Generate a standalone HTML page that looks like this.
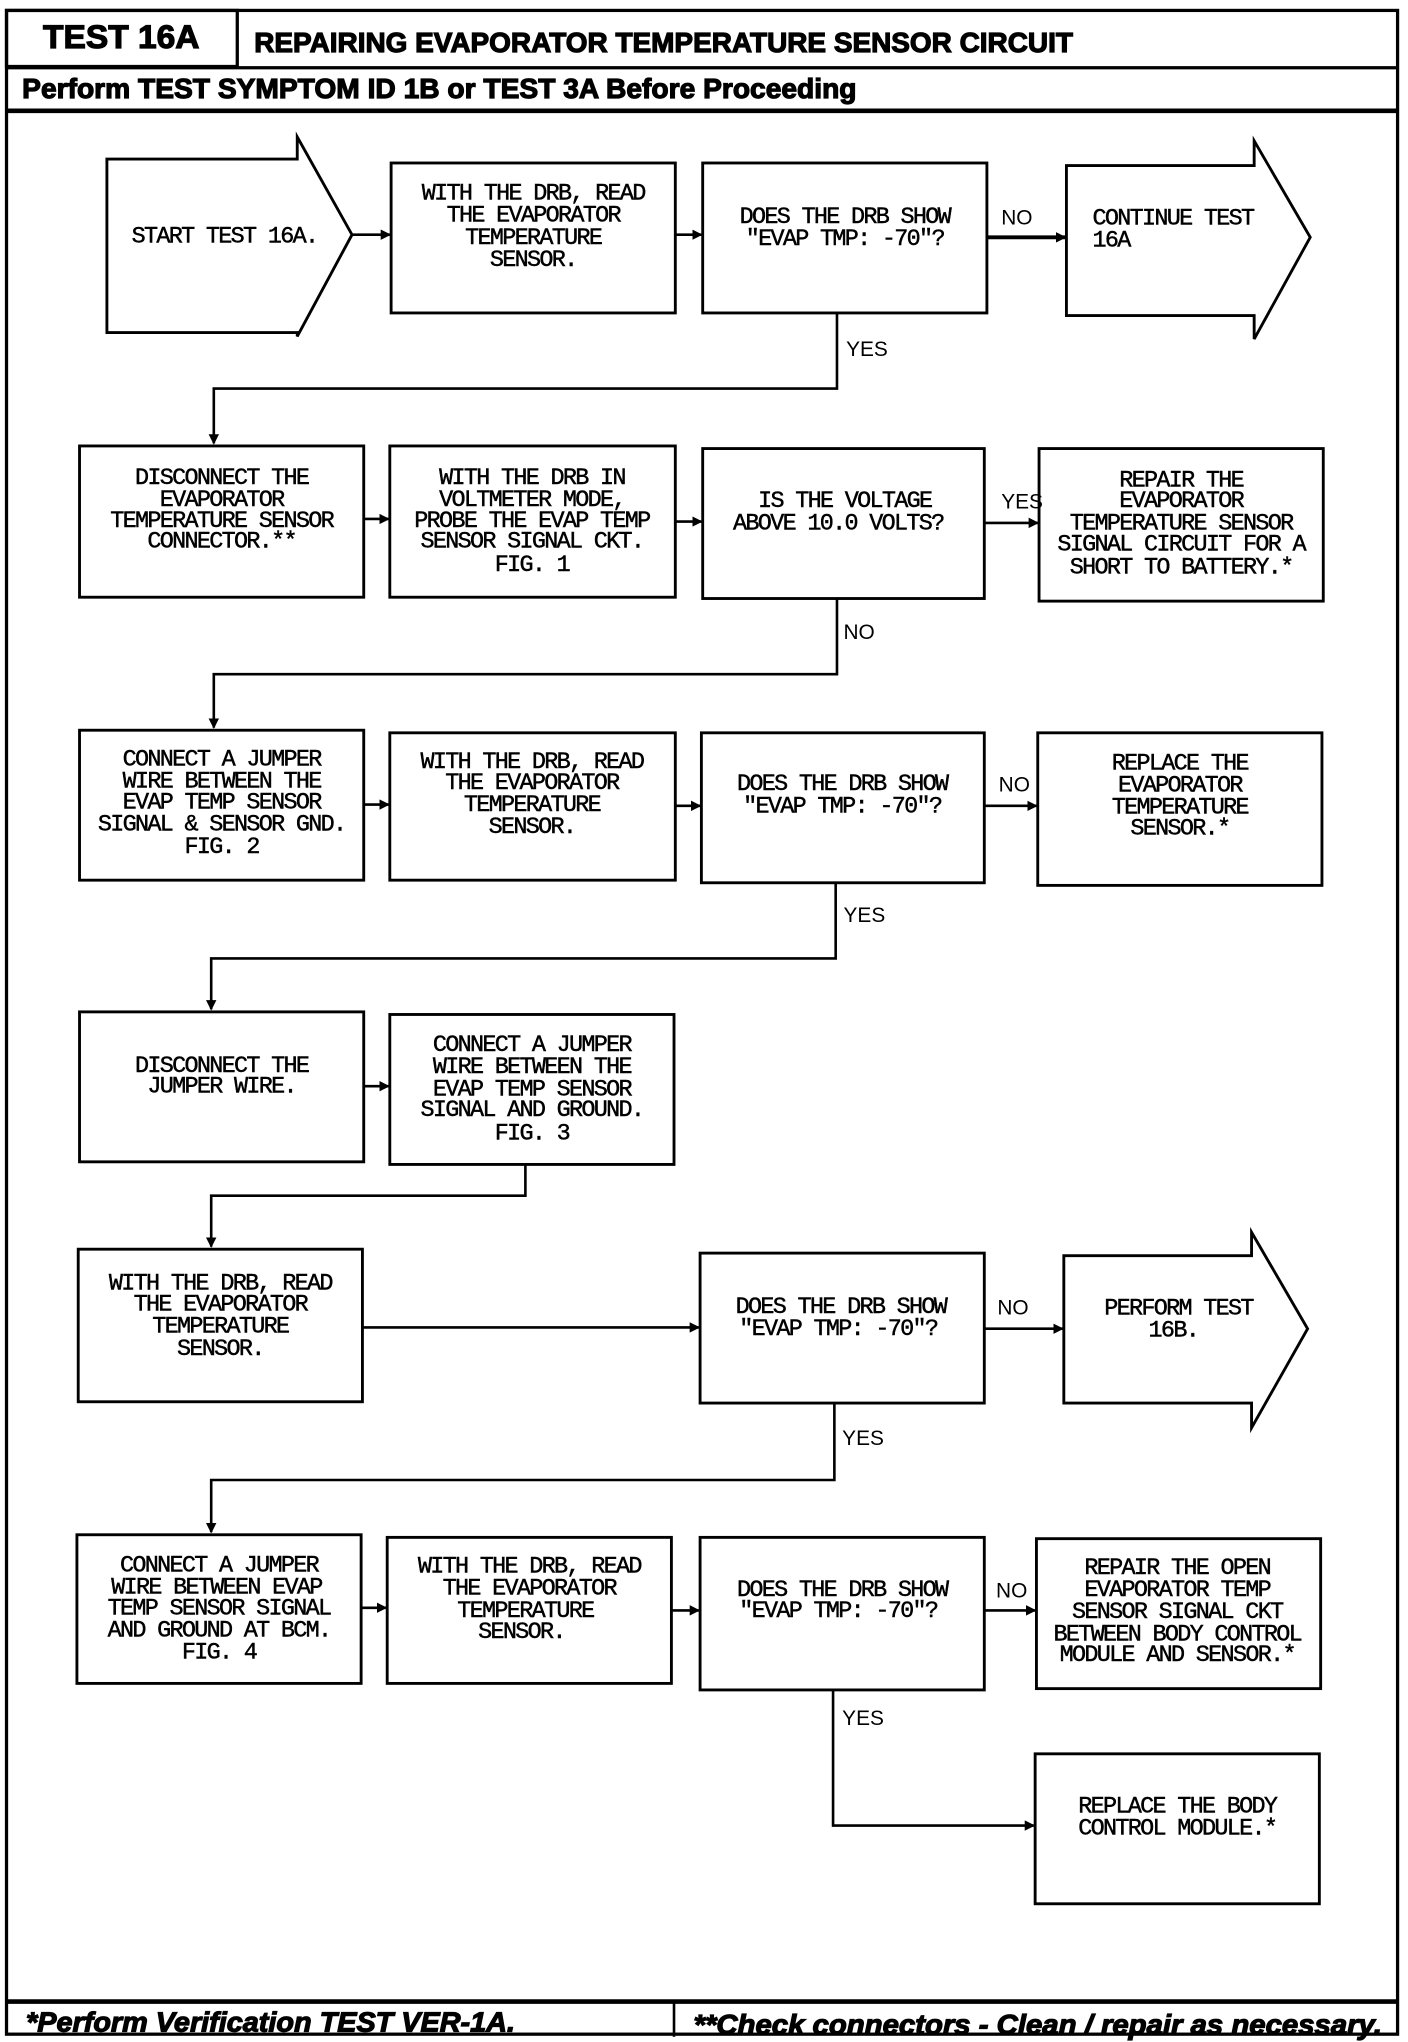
<!DOCTYPE html>
<html><head><meta charset="utf-8"><style>
html,body{margin:0;padding:0;background:#fff;}
svg{display:block;}
.t{font-family:"Liberation Mono",monospace;font-size:18px;letter-spacing:-1.3px;fill:#000;stroke:#000;stroke-width:0.35;text-anchor:middle;}
.l{font-family:"Liberation Mono",monospace;font-size:18px;letter-spacing:-1.3px;fill:#000;stroke:#000;stroke-width:0.35;}
.lab{font-family:"Liberation Sans",sans-serif;font-size:16px;fill:#000;}
.b{fill:#fff;stroke:#000;stroke-width:2.2;}
.c{fill:none;stroke:#000;stroke-width:2;}
.h{font-family:"Liberation Sans",sans-serif;font-weight:bold;fill:#000;stroke:#000;stroke-width:0.9;}
</style></head><body>
<svg width="1408" height="2042" viewBox="0 0 1080 1566" preserveAspectRatio="none" xmlns="http://www.w3.org/2000/svg">
<defs><marker id="a" markerWidth="8" markerHeight="8" refX="7" refY="4" orient="auto" markerUnits="userSpaceOnUse"><path d="M0,0 L8,4 L0,8 z" fill="#000"/></marker></defs>
<!-- frame -->
<rect x="5" y="8" width="1067" height="1552" fill="none" stroke="#000" stroke-width="2.5"/>
<rect x="5" y="8" width="177" height="43" fill="none" stroke="#000" stroke-width="2.5"/>
<line x1="5" y1="52" x2="1072" y2="52" stroke="#000" stroke-width="2.5"/>
<line x1="5" y1="85" x2="1072" y2="85" stroke="#000" stroke-width="3.5"/>
<line x1="5" y1="1535" x2="1072" y2="1535" stroke="#000" stroke-width="3.5"/>
<line x1="517" y1="1535" x2="517" y2="1562" stroke="#000" stroke-width="2"/>
<text class="h" x="93" y="37" style="font-size:25px;text-anchor:middle" textLength="120" lengthAdjust="spacingAndGlyphs">TEST 16A</text>
<text class="h" x="195" y="40" style="font-size:21px" textLength="628" lengthAdjust="spacingAndGlyphs">REPAIRING EVAPORATOR TEMPERATURE SENSOR CIRCUIT</text>
<text class="h" x="17" y="75" style="font-size:21px" textLength="640" lengthAdjust="spacingAndGlyphs">Perform TEST SYMPTOM ID 1B or TEST 3A Before Proceeding</text>
<text class="h" x="20" y="1558" style="font-style:italic;font-size:21px" textLength="375" lengthAdjust="spacingAndGlyphs">*Perform Verification TEST VER-1A.</text>
<text class="h" x="532" y="1560" style="font-style:italic;font-size:21px" textLength="528" lengthAdjust="spacingAndGlyphs">**Check connectors - Clean / repair as necessary.</text>

<!-- Row1 -->
<path class="b" d="M82,122 L228,122 L228,105 L270,180 L228,258 L228,255 L82,255 Z"/>
<text class="l" x="101" y="186">START TEST 16A.</text>
<rect class="b" x="300" y="125" width="218" height="115"/>
<text class="t" x="409" y="153">WITH THE DRB, READ</text><text class="t" x="409" y="170">THE EVAPORATOR</text><text class="t" x="409" y="187">TEMPERATURE</text><text class="t" x="409" y="204">SENSOR.</text>
<rect class="b" x="539" y="125" width="218" height="115"/>
<text class="t" x="648" y="171">DOES THE DRB SHOW</text><text class="t" x="648" y="188">"EVAP TMP: -70"?</text>
<path class="b" d="M818,127 L962,127 L962,108 L1005,182 L962,260 L962,242 L818,242 Z"/>
<text class="l" x="838" y="172">CONTINUE TEST</text><text class="l" x="838" y="189">16A</text>
<line class="c" x1="270" y1="180" x2="299" y2="180" marker-end="url(#a)"/>
<line class="c" x1="518" y1="180" x2="538" y2="180" marker-end="url(#a)"/>
<line class="c" x1="757" y1="182" x2="817" y2="182" marker-end="url(#a)" style="stroke-width:3"/>
<text class="lab" x="768" y="172">NO</text>
<path class="c" d="M642,240 V298 H164 V340" marker-end="url(#a)"/>
<text class="lab" x="649" y="273">YES</text>

<!-- Row2 -->
<rect class="b" x="61" y="342" width="218" height="116"/>
<text class="t" x="170" y="371">DISCONNECT THE</text><text class="t" x="170" y="388">EVAPORATOR</text><text class="t" x="170" y="404">TEMPERATURE SENSOR</text><text class="t" x="170" y="420">CONNECTOR.**</text>
<rect class="b" x="299" y="342" width="219" height="116"/>
<text class="t" x="408" y="371">WITH THE DRB IN</text><text class="t" x="408" y="388">VOLTMETER MODE,</text><text class="t" x="408" y="404">PROBE THE EVAP TEMP</text><text class="t" x="408" y="420">SENSOR SIGNAL CKT.</text><text class="t" x="408" y="438">FIG. 1</text>
<rect class="b" x="539" y="344" width="216" height="115"/>
<text class="t" x="648" y="389">IS THE VOLTAGE</text><text class="t" x="643" y="406">ABOVE 10.0 VOLTS?</text>
<rect class="b" x="797" y="344" width="218" height="117"/>
<text class="t" x="906" y="373">REPAIR THE</text><text class="t" x="906" y="389">EVAPORATOR</text><text class="t" x="906" y="406">TEMPERATURE SENSOR</text><text class="t" x="906" y="422">SIGNAL CIRCUIT FOR A</text><text class="t" x="906" y="440">SHORT TO BATTERY.*</text>
<line class="c" x1="279" y1="398" x2="298" y2="398" marker-end="url(#a)"/>
<line class="c" x1="518" y1="400" x2="538" y2="400" marker-end="url(#a)"/>
<line class="c" x1="755" y1="401" x2="796" y2="401" marker-end="url(#a)"/>
<text class="lab" x="768" y="390">YES</text>
<path class="c" d="M642,459 V517 H164 V558" marker-end="url(#a)"/>
<text class="lab" x="647" y="490">NO</text>

<!-- Row3 -->
<rect class="b" x="61" y="560" width="218" height="115"/>
<text class="t" x="170" y="587">CONNECT A JUMPER</text><text class="t" x="170" y="604">WIRE BETWEEN THE</text><text class="t" x="170" y="620">EVAP TEMP SENSOR</text><text class="t" x="170" y="637">SIGNAL &amp; SENSOR GND.</text><text class="t" x="170" y="654">FIG. 2</text>
<rect class="b" x="299" y="562" width="219" height="113"/>
<text class="t" x="408" y="589">WITH THE DRB, READ</text><text class="t" x="408" y="605">THE EVAPORATOR</text><text class="t" x="408" y="622">TEMPERATURE</text><text class="t" x="408" y="639">SENSOR.</text>
<rect class="b" x="538" y="562" width="217" height="115"/>
<text class="t" x="646" y="606">DOES THE DRB SHOW</text><text class="t" x="646" y="623">"EVAP TMP: -70"?</text>
<rect class="b" x="796" y="562" width="218" height="117"/>
<text class="t" x="905" y="590">REPLACE THE</text><text class="t" x="905" y="607">EVAPORATOR</text><text class="t" x="905" y="624">TEMPERATURE</text><text class="t" x="905" y="640">SENSOR.*</text>
<line class="c" x1="279" y1="617" x2="298" y2="617" marker-end="url(#a)"/>
<line class="c" x1="518" y1="618" x2="537" y2="618" marker-end="url(#a)"/>
<line class="c" x1="755" y1="618" x2="795" y2="618" marker-end="url(#a)"/>
<text class="lab" x="766" y="607">NO</text>
<path class="c" d="M641,677 V735 H162 V774" marker-end="url(#a)"/>
<text class="lab" x="647" y="707">YES</text>

<!-- Row4 -->
<rect class="b" x="61" y="776" width="218" height="115"/>
<text class="t" x="170" y="822">DISCONNECT THE</text><text class="t" x="170" y="838">JUMPER WIRE.</text>
<rect class="b" x="299" y="778" width="218" height="115"/>
<text class="t" x="408" y="806">CONNECT A JUMPER</text><text class="t" x="408" y="823">WIRE BETWEEN THE</text><text class="t" x="408" y="840">EVAP TEMP SENSOR</text><text class="t" x="408" y="856">SIGNAL AND GROUND.</text><text class="t" x="408" y="874">FIG. 3</text>
<line class="c" x1="279" y1="833" x2="298" y2="833" marker-end="url(#a)"/>
<path class="c" d="M403,893 V917 H162 V956" marker-end="url(#a)"/>

<!-- Row5 -->
<rect class="b" x="60" y="958" width="218" height="117"/>
<text class="t" x="169" y="989">WITH THE DRB, READ</text><text class="t" x="169" y="1005">THE EVAPORATOR</text><text class="t" x="169" y="1022">TEMPERATURE</text><text class="t" x="169" y="1039">SENSOR.</text>
<rect class="b" x="537" y="961" width="218" height="115"/>
<text class="t" x="645" y="1007">DOES THE DRB SHOW</text><text class="t" x="643" y="1024">"EVAP TMP: -70"?</text>
<path class="b" d="M816,963 L960,963 L960,945 L1003,1019 L960,1095 L960,1076 L816,1076 Z"/>
<text class="t" x="904" y="1008">PERFORM TEST</text><text class="t" x="900" y="1025">16B.</text>
<line class="c" x1="278" y1="1018" x2="536" y2="1018" marker-end="url(#a)"/>
<line class="c" x1="755" y1="1019" x2="815" y2="1019" marker-end="url(#a)"/>
<text class="lab" x="765" y="1008">NO</text>
<path class="c" d="M640,1076 V1135 H162 V1175" marker-end="url(#a)"/>
<text class="lab" x="646" y="1108">YES</text>

<!-- Row6 -->
<rect class="b" x="59" y="1177" width="218" height="114"/>
<text class="t" x="168" y="1205">CONNECT A JUMPER</text><text class="t" x="166" y="1222">WIRE BETWEEN EVAP</text><text class="t" x="168" y="1238">TEMP SENSOR SIGNAL</text><text class="t" x="168" y="1255">AND GROUND AT BCM.</text><text class="t" x="168" y="1272">FIG. 4</text>
<rect class="b" x="297" y="1179" width="218" height="112"/>
<text class="t" x="406" y="1206">WITH THE DRB, READ</text><text class="t" x="406" y="1223">THE EVAPORATOR</text><text class="t" x="403" y="1240">TEMPERATURE</text><text class="t" x="400" y="1256">SENSOR.</text>
<rect class="b" x="537" y="1179" width="218" height="117"/>
<text class="t" x="646" y="1224">DOES THE DRB SHOW</text><text class="t" x="643" y="1240">"EVAP TMP: -70"?</text>
<rect class="b" x="795" y="1180" width="218" height="115"/>
<text class="t" x="903" y="1207">REPAIR THE OPEN</text><text class="t" x="903" y="1224">EVAPORATOR TEMP</text><text class="t" x="903" y="1241">SENSOR SIGNAL CKT</text><text class="t" x="903" y="1258">BETWEEN BODY CONTROL</text><text class="t" x="903" y="1274">MODULE AND SENSOR.*</text>
<rect class="b" x="794" y="1345" width="218" height="115"/>
<text class="t" x="903" y="1390">REPLACE THE BODY</text><text class="t" x="903" y="1407">CONTROL MODULE.*</text>
<line class="c" x1="277" y1="1233" x2="296" y2="1233" marker-end="url(#a)"/>
<line class="c" x1="515" y1="1235" x2="536" y2="1235" marker-end="url(#a)"/>
<line class="c" x1="755" y1="1235" x2="794" y2="1235" marker-end="url(#a)"/>
<text class="lab" x="764" y="1225">NO</text>
<path class="c" d="M639,1296 V1400 H793" marker-end="url(#a)"/>
<text class="lab" x="646" y="1323">YES</text>
</svg>
</body></html>
